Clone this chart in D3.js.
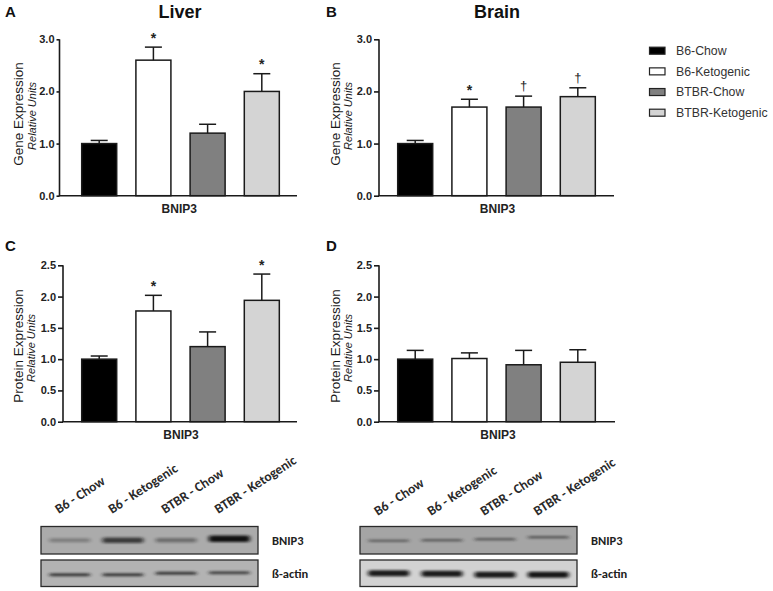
<!DOCTYPE html>
<html><head><meta charset="utf-8">
<script src="https://cdn.jsdelivr.net/npm/d3@7"></script>
<style>body{margin:0;background:#fff}svg{display:block}</style>
</head><body>
<svg id="c" width="773" height="591"></svg>
<script>
// ---------- data ----------
const groups = ["B6-Chow", "B6-Ketogenic", "BTBR-Chow", "BTBR-Ketogenic"];
const groupFills = ["#000000", "#ffffff", "#808080", "#d4d4d4"];
const liverGene = [1.0, 2.6, 1.2, 2.0];
const liverGeneErr = [0.06, 0.25, 0.17, 0.34];
const liverGeneSig = ["", "*", "", "*"];
const brainGene = [1.0, 1.7, 1.7, 1.9];
const brainGeneErr = [0.06, 0.15, 0.21, 0.17];
const brainGeneSig = ["", "*", "\u2020", "\u2020"];
const liverProt = [1.0, 1.77, 1.2, 1.94];
const liverProtErr = [0.05, 0.25, 0.235, 0.42];
const liverProtSig = ["", "*", "", "*"];
const brainProt = [1.0, 1.01, 0.91, 0.95];
const brainProtErr = [0.14, 0.09, 0.23, 0.20];
const brainProtSig = ["", "", "", ""];
const geneTicks = [0, 1, 2, 3];
const protTicks = [0, 0.5, 1, 1.5, 2, 2.5];
const blotLanes = ["B6 - Chow", "B6 - Ketogenic", "BTBR - Chow", "BTBR - Ketogenic"];
const liverBnip3Band = [0.28, 0.7, 0.38, 0.97];
const liverActinBand = [0.8, 0.8, 0.8, 0.72];
const brainBnip3Band = [0.5, 0.55, 0.55, 0.58];
const brainActinBand = [0.92, 0.92, 0.92, 0.95];

// ---------- drawing ----------
const svg = d3.select("#c");
const defs = svg.append("defs");
defs.append("filter").attr("id", "blur").attr("x", "-20%").attr("y", "-200%").attr("width", "140%").attr("height", "500%")
  .append("feGaussianBlur").attr("stdDeviation", "2.2 0.9");

const AF = "Liberation Sans, Arial, sans-serif";

function panel(o) {
  const g = svg.append("g");
  const y = d3.scaleLinear().domain([0, o.max]).range([o.y0, o.yTop]);
  const step = 54.2;
  const x = d3.scaleBand().domain(groups)
    .range([o.barStart - step * 0.177, o.barStart - step * 0.177 + step * 4])
    .paddingInner(0.354).paddingOuter(0.177);

  g.selectAll("rect.bar").data(groups).join("rect")
    .attr("x", d => x(d)).attr("width", x.bandwidth())
    .attr("y", (d, i) => y(o.vals[i])).attr("height", (d, i) => o.y0 - y(o.vals[i]))
    .attr("fill", (d, i) => groupFills[i]).attr("stroke", "#1a1a1a").attr("stroke-width", 1.5);
  groups.forEach((d, i) => {
    const cx = x(d) + x.bandwidth() / 2;
    const top = y(o.vals[i] + o.err[i]);
    g.append("line").attr("x1", cx).attr("x2", cx).attr("y1", y(o.vals[i])).attr("y2", top)
      .attr("stroke", "#1a1a1a").attr("stroke-width", 1.5);
    g.append("line").attr("x1", cx - 8.5).attr("x2", cx + 8.5).attr("y1", top).attr("y2", top)
      .attr("stroke", "#1a1a1a").attr("stroke-width", 1.5);
    if (o.sig[i]) {
      const isStar = o.sig[i] === "*";
      g.append("text").attr("x", cx).attr("y", isStar ? top - 4.5 : top - 6)
        .attr("text-anchor", "middle").attr("font-family", AF)
        .attr("font-weight", isStar ? "bold" : "normal")
        .attr("font-size", isStar ? 14 : 13).attr("fill", "#222").text(o.sig[i]);
    }
  });
  const ax = g.append("g").attr("transform", `translate(${o.axisX},0)`)
    .call(d3.axisLeft(y).tickValues(o.ticks).tickFormat(d3.format(".1f")).tickSize(o.tick).tickPadding(2));
  ax.select(".domain").attr("stroke", "#1a1a1a").attr("stroke-width", 1.6).attr("d", `M0,${o.y0}V${o.yTop}`);
  ax.selectAll(".tick line").attr("stroke", "#1a1a1a").attr("stroke-width", 1.6);
  ax.selectAll(".tick text").attr("font-family", AF).attr("font-weight", "bold").attr("font-size", 11).attr("fill", "#222");
  g.append("line").attr("x1", o.axisX - 0.8).attr("x2", o.xEnd).attr("y1", o.y0).attr("y2", o.y0)
    .attr("stroke", "#1a1a1a").attr("stroke-width", 1.6);
  g.append("text").attr("x", o.axisX + (o.xEnd - o.axisX) / 2 + 1).attr("y", o.y0 + 17)
    .attr("text-anchor", "middle").attr("font-family", AF).attr("font-weight", "bold").attr("font-size", 12)
    .attr("fill", "#222").text("BNIP3");
  g.append("text").attr("transform", `translate(${o.titleX},${o.titleY}) rotate(-90)`).attr("dy", "0.35em")
    .attr("text-anchor", "middle").attr("font-family", AF).attr("font-size", 13.5).attr("fill", "#1a1a1a").text(o.title);
  g.append("text").attr("transform", `translate(${o.titleX + 13},${o.titleY + 2}) rotate(-90)`).attr("dy", "0.35em")
    .attr("text-anchor", "middle").attr("font-family", AF).attr("font-size", 11).attr("font-style", "italic")
    .attr("fill", "#1a1a1a").text("Relative Units");
  g.append("text").attr("x", o.letterX).attr("y", o.letterY).attr("font-family", AF).attr("font-weight", "bold")
    .attr("font-size", 15).attr("fill", "#111").text(o.letter);
}

panel({vals: liverGene, err: liverGeneErr, sig: liverGeneSig, max: 3, ticks: geneTicks, y0: 195.7, yTop: 39.3,
  axisX: 59.5, barStart: 81.7, xEnd: 297, tick: 3, title: "Gene Expression", titleX: 18.7, titleY: 114, letter: "A", letterX: 5, letterY: 17});
panel({vals: brainGene, err: brainGeneErr, sig: brainGeneSig, max: 3, ticks: geneTicks, y0: 195.7, yTop: 39.3,
  axisX: 379, barStart: 397.7, xEnd: 614, tick: 5, title: "Gene Expression", titleX: 335, titleY: 114, letter: "B", letterX: 326, letterY: 17});
panel({vals: liverProt, err: liverProtErr, sig: liverProtSig, max: 2.5, ticks: protTicks, y0: 421.7, yTop: 265.3,
  axisX: 63, barStart: 81.7, xEnd: 297, tick: 5, title: "Protein Expression", titleX: 18.3, titleY: 346, letter: "C", letterX: 5, letterY: 251});
panel({vals: brainProt, err: brainProtErr, sig: brainProtSig, max: 2.5, ticks: protTicks, y0: 421.7, yTop: 265.3,
  axisX: 379, barStart: 397.7, xEnd: 615, tick: 5, title: "Protein Expression", titleX: 335, titleY: 346, letter: "D", letterX: 326, letterY: 251});

svg.append("text").attr("x", 180).attr("y", 18).attr("text-anchor", "middle").attr("font-family", AF)
  .attr("font-weight", "bold").attr("font-size", 18).attr("fill", "#111").text("Liver");
svg.append("text").attr("x", 497).attr("y", 18).attr("text-anchor", "middle").attr("font-family", AF)
  .attr("font-weight", "bold").attr("font-size", 18).attr("fill", "#111").text("Brain");

const leg = svg.append("g").attr("transform", "translate(649.5,0)");
const ly = d3.scalePoint().domain(groups).range([50.7, 112.7]);
leg.selectAll("rect").data(groups).join("rect")
  .attr("x", 0).attr("y", d => ly(d) - 3.5).attr("width", 15.5).attr("height", 7)
  .attr("fill", (d, i) => groupFills[i]).attr("stroke", "#222").attr("stroke-width", 1.2);
leg.selectAll("text").data(groups).join("text")
  .attr("x", 26.5).attr("y", d => ly(d)).attr("dy", "0.36em").attr("font-family", AF).attr("font-size", 12.3)
  .attr("fill", "#333").text(d => d);

// western blots
const BF = "Carlito, Lato, 'Open Sans', sans-serif";
function blot(o) {
  const g = svg.append("g");
  const lx = d3.scaleBand().domain(blotLanes).range([o.x0, o.x0 + 217]).padding(0.08);
  const strips = [
    {y: 526.5, h: 27.5, fill: o.topFill, bands: o.top, label: "BNIP3", ly: 540.5, bandH: o.topH, dark: o.topDark, shift: o.topShift},
    {y: 560, h: 26.5, fill: o.botFill, bands: o.bot, label: "\u00DF-actin", ly: 573.5, bandH: o.botH, dark: o.botDark, shift: o.botShift}
  ];
  strips.forEach((s) => {
    g.append("rect").attr("x", o.x0).attr("y", s.y).attr("width", 217).attr("height", s.h)
      .attr("fill", s.fill).attr("stroke", "#2a2a2a").attr("stroke-width", 1.3);
    g.selectAll(null).data(blotLanes).join("rect")
      .attr("x", d => lx(d) + 4)
      .attr("width", lx.bandwidth() - 8)
      .attr("y", (d, i) => s.y + s.h / 2 + s.shift[i] - s.bandH * (0.5 + 0.5 * s.bands[i]))
      .attr("height", (d, i) => 2 * s.bandH * (0.5 + 0.5 * s.bands[i]))
      .attr("rx", 2)
      .attr("fill", s.dark).attr("opacity", (d, i) => s.bands[i])
      .attr("filter", "url(#blur)");
    g.append("text").attr("x", o.x0 + 231).attr("y", s.ly).attr("dy", "0.35em").attr("font-family", BF)
      .attr("font-weight", "bold").attr("font-size", 12.5).attr("fill", "#222").text(s.label);
  });
  g.selectAll("text.lane").data(blotLanes).join("text").attr("class", "lane")
    .attr("transform", d => `translate(${lx(d) + lx.bandwidth() / 2 - 11},${o.labY}) rotate(-33)`)
    .attr("font-family", BF).attr("font-weight", "bold").attr("font-size", 13.5).attr("fill", "#2a2a2a").text(d => d);
}
blot({x0: 41, topFill: "#ababab", botFill: "#b3b3b3", top: liverBnip3Band, bot: liverActinBand,
  topH: 3.2, botH: 1.8, topDark: "#111", botDark: "#1a1a1a",
  topShift: [0, 0, 0, -1.5], botShift: [1.5, 1.5, 0, -0.5], labY: 514});
blot({x0: 360, topFill: "#a5a5a5", botFill: "#d2d2d2", top: brainBnip3Band, bot: brainActinBand,
  topH: 1.6, botH: 3, topDark: "#222", botDark: "#111",
  topShift: [0.5, 0, -1, -3], botShift: [0, 0.5, 1.5, 1.5], labY: 516});
</script>
</body></html>
